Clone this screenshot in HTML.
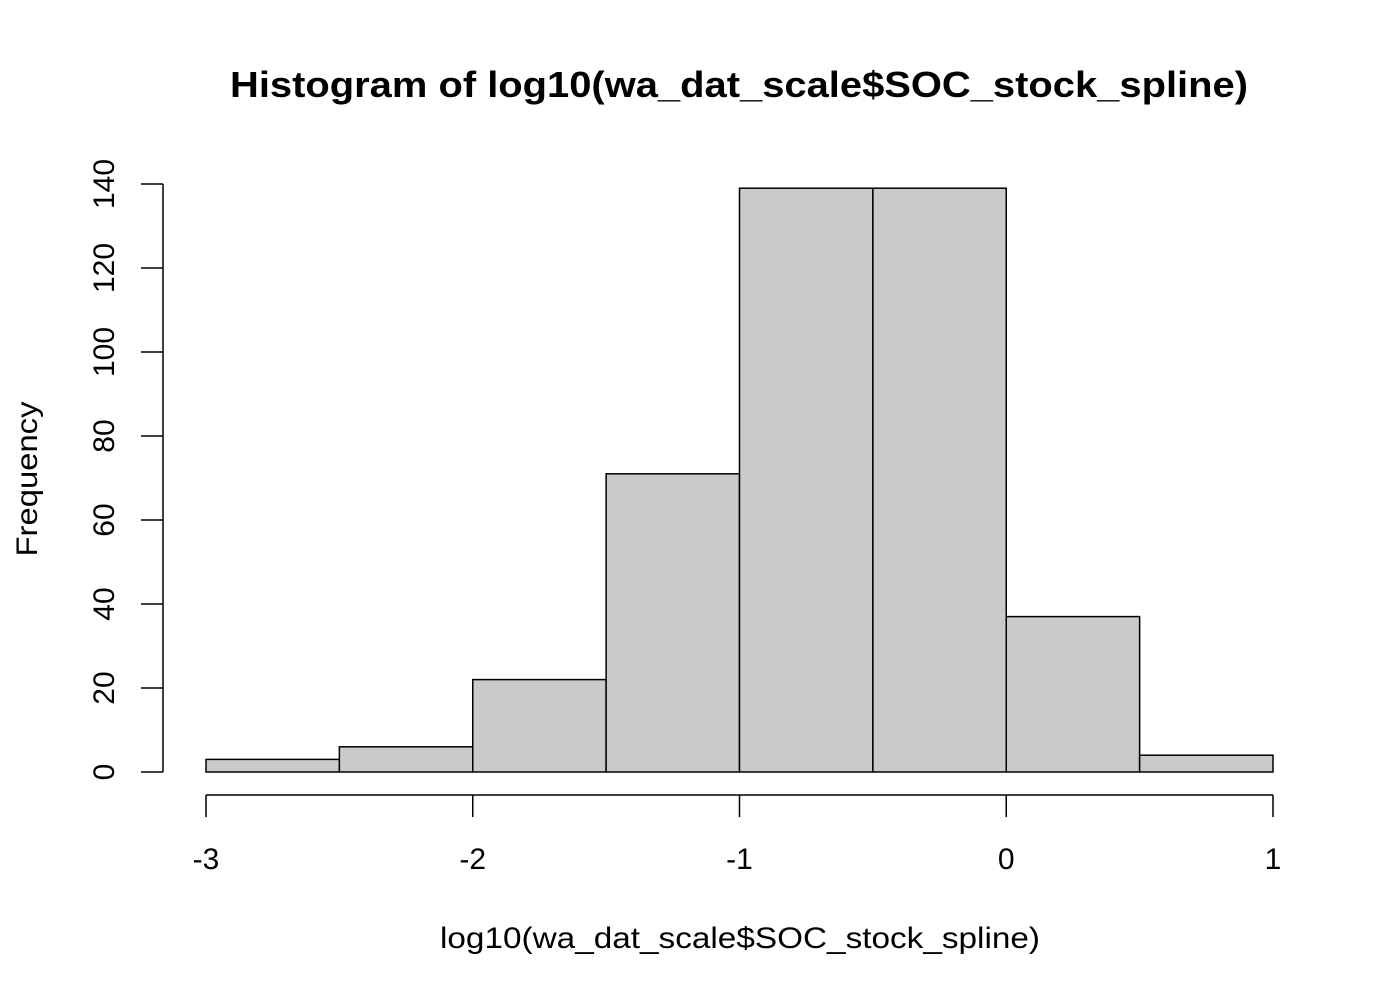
<!DOCTYPE html>
<html><head><meta charset="utf-8"><style>body{margin:0;background:#fff}svg{display:block}text{font-family:"Liberation Sans",Arial,sans-serif;fill:#000}</style></head>
<body>
<svg id="chart" width="1400" height="1000" xmlns="http://www.w3.org/2000/svg">
<text x="739" y="97" text-anchor="middle" font-size="36" font-weight="bold" textLength="1018" lengthAdjust="spacingAndGlyphs">Histogram of log10(wa_dat_scale$SOC_stock_spline)</text>
<text x="740" y="948" text-anchor="middle" font-size="30" textLength="600" lengthAdjust="spacingAndGlyphs">log10(wa_dat_scale$SOC_stock_spline)</text>
<text transform="translate(37,479) rotate(-90)" text-anchor="middle" font-size="30" textLength="155" lengthAdjust="spacingAndGlyphs">Frequency</text>
<g id="bars"></g><g id="xaxis"></g><g id="yaxis"></g>
</svg>
<script>
const binEdges=[-3,-2.5,-2,-1.5,-1,-0.5,0,0.5,1];
const counts=[3,6,22,71,139,139,37,4];
const xTicks=[-3,-2,-1,0,1];
const yTicks=[0,20,40,60,80,100,120,140];
const NS="http://www.w3.org/2000/svg";
const xs=v=>206+(v+3)*(1273-206)/4;
const ys=v=>772-v*(772-184)/140;
function mk(tag,attrs,parent){const e=document.createElementNS(NS,tag);for(const k in attrs)e.setAttribute(k,attrs[k]);parent.appendChild(e);return e;}
const bars=document.getElementById('bars');
counts.forEach((c,i)=>{
 const r=mk('rect',{x:xs(binEdges[i]),y:ys(c),width:xs(binEdges[i+1])-xs(binEdges[i]),height:ys(0)-ys(c),fill:'#cacaca',stroke:'#000','stroke-width':1.5},bars);
 
 
});
const xa=document.getElementById('xaxis');
const xl=mk('line',{x1:xs(xTicks[0]),x2:xs(xTicks[xTicks.length-1]),y1:795,y2:795,stroke:'#000','stroke-width':1.5},xa);


xTicks.forEach(t=>{
 mk('line',{x1:xs(t),x2:xs(t),y1:795,y2:817,stroke:'#000','stroke-width':1.5},xa);
 const tx=mk('text',{x:xs(t),y:869,'text-anchor':'middle','font-size':30},xa);
 tx.textContent=t;
 
 
});
const ya=document.getElementById('yaxis');
const yl=mk('line',{x1:163,x2:163,y1:ys(0),y2:ys(140),stroke:'#000','stroke-width':1.5},ya);


yTicks.forEach(t=>{
 mk('line',{x1:141,x2:163,y1:ys(t),y2:ys(t),stroke:'#000','stroke-width':1.5},ya);
 const tx=mk('text',{transform:`translate(114,${ys(t)}) rotate(-90)`,'text-anchor':'middle','font-size':30},ya);
 tx.textContent=t;
 
 
});
</script>
</body></html>
